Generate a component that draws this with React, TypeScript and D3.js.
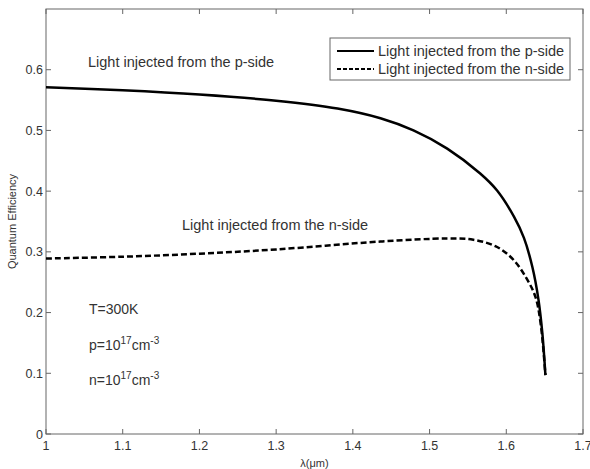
import React from "react";
import * as d3 from "d3";

// wavelength (um) and quantum efficiency
const pLambda = [1, 1.1, 1.2, 1.3, 1.38, 1.436, 1.479, 1.523, 1.566, 1.588, 1.61, 1.623, 1.634, 1.642, 1.647, 1.651];
const pValues = [0.571, 0.566, 0.559, 0.549, 0.536, 0.52, 0.5, 0.47, 0.429, 0.401, 0.358, 0.323, 0.275, 0.221, 0.166, 0.097];

const nLambda = [1, 1.1, 1.2, 1.3, 1.436, 1.523, 1.557, 1.588, 1.61, 1.627, 1.638, 1.645, 1.651];
const nValues = [0.289, 0.292, 0.297, 0.304, 0.317, 0.322, 0.32, 0.308, 0.286, 0.255, 0.226, 0.18, 0.097];

const xTicks = [1, 1.1, 1.2, 1.3, 1.4, 1.5, 1.6, 1.7];
const yTicks = [0, 0.1, 0.2, 0.3, 0.4, 0.5, 0.6];

const W = 590;
const H = 469;
const margin = { top: 9, right: 7, bottom: 35, left: 46 };
const axisColor = "#666";
const textColor = "#333";
const font = "'Liberation Sans', Arial, sans-serif";

export default function App() {
  const x = d3.scaleLinear().domain([1, 1.7]).range([margin.left, W - margin.right]);
  const y = d3.scaleLinear().domain([0, 0.7]).range([H - margin.bottom, margin.top]);

  const line = d3
    .line<[number, number]>()
    .x((d) => x(d[0]))
    .y((d) => y(d[1]))
    .curve(d3.curveCatmullRom.alpha(0.5));

  const pPath = line(pLambda.map((l, i) => [l, pValues[i]]) as [number, number][]) || "";
  const nPath = line(nLambda.map((l, i) => [l, nValues[i]]) as [number, number][]) || "";

  const x0 = x(1);
  const x1 = x(1.7);
  const y0 = y(0);
  const y1 = y(0.7);
  const tick = 5;

  return (
    <div style={{ position: "absolute", left: 0, top: 0, background: "#fff" }}>
      <svg width={W} height={H} style={{ display: "block", fontFamily: font }}>
        <rect x={0} y={0} width={W} height={H} fill="#fff" />

        {/* box */}
        <rect x={x0} y={y1} width={x1 - x0} height={y0 - y1} fill="none" stroke={axisColor} strokeWidth={1} />

        {/* x ticks */}
        {xTicks.map((t) => (
          <g key={"x" + t}>
            <line x1={x(t)} x2={x(t)} y1={y0} y2={y0 - tick} stroke={axisColor} />
            <line x1={x(t)} x2={x(t)} y1={y1} y2={y1 + tick} stroke={axisColor} />
            <text x={x(t)} y={y0 + 16} textAnchor="middle" fontSize={12.5} fill={textColor}>
              {d3.format("~g")(t)}
            </text>
          </g>
        ))}

        {/* y ticks */}
        {yTicks.map((t) => (
          <g key={"y" + t}>
            <line x1={x0} x2={x0 + tick} y1={y(t)} y2={y(t)} stroke={axisColor} />
            <line x1={x1} x2={x1 - tick} y1={y(t)} y2={y(t)} stroke={axisColor} />
            <text x={x0 - 3} y={y(t) + 4.5} textAnchor="end" fontSize={12.5} fill={textColor}>
              {d3.format("~g")(t)}
            </text>
          </g>
        ))}

        {/* axis labels */}
        <text x={x(1.35)} y={H - 2} textAnchor="middle" fontSize={11} fill={textColor}>
          λ(μm)
        </text>
        <text
          transform={`translate(${16},${y(0.35)}) rotate(-90)`}
          textAnchor="middle"
          fontSize={11}
          fill={textColor}
        >
          Quantum Efficiency
        </text>

        {/* curves */}
        <path d={pPath} fill="none" stroke="#000" strokeWidth={2.5} />
        <path d={nPath} fill="none" stroke="#000" strokeWidth={2.5} strokeDasharray="6,3" />

        {/* annotations */}
        <text x={88} y={67} fontSize={14.5} fill={textColor}>Light injected from the p-side</text>
        <text x={182} y={230} fontSize={14.5} fill={textColor}>Light injected from the n-side</text>
        <text x={89} y={314} fontSize={14} fill={textColor}>T=300K</text>
        <text x={89} y={350} fontSize={14} fill={textColor}>
          p=10<tspan dy={-6} fontSize={10}>17</tspan>
          <tspan dy={6}>cm</tspan>
          <tspan dy={-6} fontSize={10}>-3</tspan>
        </text>
        <text x={89} y={385} fontSize={14} fill={textColor}>
          n=10<tspan dy={-6} fontSize={10}>17</tspan>
          <tspan dy={6}>cm</tspan>
          <tspan dy={-6} fontSize={10}>-3</tspan>
        </text>

        {/* legend */}
        <g>
          <rect x={330} y={38} width={240} height={42} fill="#fff" stroke={axisColor} strokeWidth={1} />
          <line x1={337} x2={374} y1={51} y2={51} stroke="#000" strokeWidth={2} />
          <line x1={337} x2={374} y1={69} y2={69} stroke="#000" strokeWidth={2} strokeDasharray="4,2" />
          <text x={378} y={56} fontSize={14.5} fill={textColor}>Light injected from the p-side</text>
          <text x={378} y={74} fontSize={14.5} fill={textColor}>Light injected from the n-side</text>
        </g>
      </svg>
    </div>
  );
}
